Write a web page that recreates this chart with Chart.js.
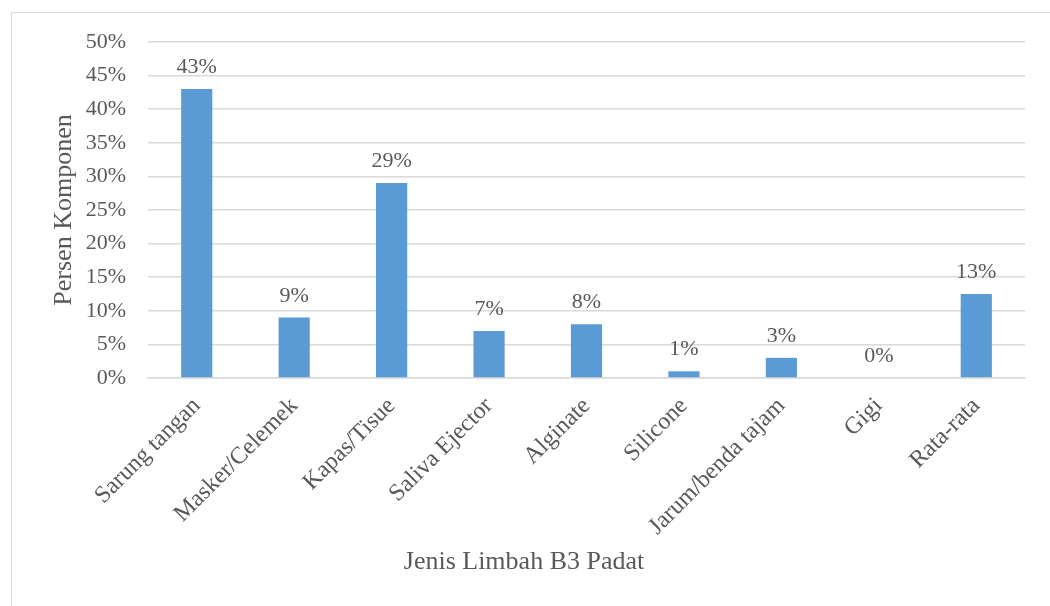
<!DOCTYPE html>
<html>
<head>
<meta charset="utf-8">
<script src="https://cdn.jsdelivr.net/npm/chart.js@4"></script>
<style>
  html, body { margin: 0; padding: 0; background: #ffffff; overflow: hidden; }
  #frame {
    position: absolute; left: 11px; top: 12px;
    width: 1100px; height: 700px;
    border: 1px solid #d9d9d9;
  }
  #chart { position: absolute; left: 0; top: 0; }
</style>
</head>
<body>
<div id="frame"></div>
<canvas id="chart" width="1050" height="606"></canvas>
<script>
// Komposisi limbah B3 padat (persen)
const kategori = ['Sarung tangan', 'Masker/Celemek', 'Kapas/Tisue', 'Saliva Ejector',
                  'Alginate', 'Silicone', 'Jarum/benda tajam', 'Gigi', 'Rata-rata'];
const persen = [43, 9, 29, 7, 8, 1, 3, 0, 12.5];
const tickMax = 50;
const tickStep = 5;

const fontSerif = "'Liberation Serif', 'Times New Roman', serif";
const warnaTeks = '#595959';
const warnaGrid = '#d9d9d9';
const judulX = 'Jenis Limbah B3 Padat';

// label nilai di atas setiap batang + judul sumbu X (berada di tengah seluruh area grafik)
const labelNilai = {
    id: 'labelNilai',
    afterDatasetsDraw(chart) {
        const ctx = chart.ctx;
        const meta = chart.getDatasetMeta(0);
        ctx.save();
        ctx.font = '22px ' + fontSerif;
        ctx.fillStyle = warnaTeks;
        ctx.textAlign = 'center';
        ctx.textBaseline = 'alphabetic';
        meta.data.forEach(function(bar, i) {
            const v = chart.data.datasets[0].data[i];
            ctx.fillText(Math.round(v) + '%', bar.x, bar.y - 16);
        });
        ctx.font = '26px ' + fontSerif;
        ctx.textBaseline = 'middle';
        ctx.fillText(judulX, 524, 562);
        ctx.restore();
    }
};

const ctx = document.getElementById('chart').getContext('2d');
const chart = new Chart(ctx, {
    type: 'bar',
    data: {
        labels: kategori,
        datasets: [{
            label: 'Persen Komponen',
            data: persen,
            backgroundColor: '#5b9bd5',
            borderWidth: 0,
            categoryPercentage: 1,
            barPercentage: 0.32
        }]
    },
    options: {
        responsive: false,
        animation: false,
        layout: {
            padding: { left: 0, right: 25, top: 42, bottom: 0 }
        },
        plugins: {
            legend: { display: false },
            tooltip: { enabled: false }
        },
        scales: {
            x: {
                grid: { display: false, drawTicks: false },
                border: { display: true, color: warnaGrid, width: 1.5 },
                ticks: {
                    color: warnaTeks,
                    font: { family: fontSerif, size: 24 },
                    maxRotation: 45,
                    minRotation: 45,
                    autoSkip: false,
                    padding: 14
                },
                afterFit(scale) { scale.height = 228; }
            },
            y: {
                min: 0,
                max: tickMax,
                grid: { color: warnaGrid, lineWidth: 1.5, drawTicks: false },
                border: { display: false },
                ticks: {
                    stepSize: tickStep,
                    color: warnaTeks,
                    font: { family: fontSerif, size: 22 },
                    padding: 22,
                    callback: function(v) { return v + '%'; }
                },
                title: {
                    display: true,
                    text: 'Persen Komponen',
                    color: warnaTeks,
                    font: { family: fontSerif, size: 26 },
                    padding: { top: 49, bottom: 0 }
                },
                afterFit(scale) { scale.width = 148; }
            }
        }
    },
    plugins: [labelNilai]
});
</script>
</body>
</html>
